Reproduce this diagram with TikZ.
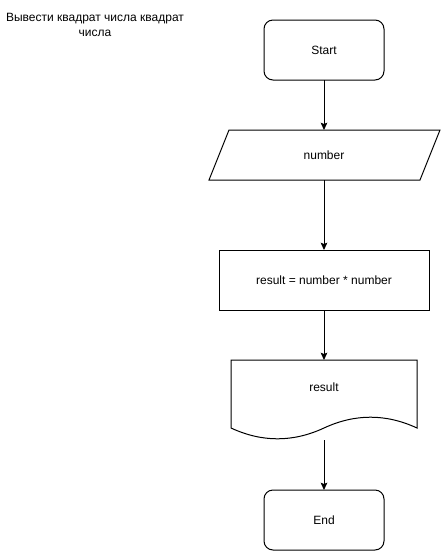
\documentclass[tikz,border=0pt]{standalone}
\usepackage{fontspec}
\setmainfont{Liberation Sans}
\usetikzlibrary{arrows.meta}
\tikzset{
  px/.style={x=0.75pt,y=-0.75pt},
  ln/.style={line width=0.75pt,draw=black},
  term/.style={ln,rectangle,rounded corners=6.75pt,minimum width=90pt,minimum height=45pt,outer sep=0pt,inner sep=0pt,font=\fontsize{9}{11}\selectfont},
  procbox/.style={ln,rectangle,minimum width=157.5pt,minimum height=45pt,outer sep=0pt,inner sep=0pt,font=\fontsize{9}{11}\selectfont},
  ghost/.style={rectangle,outer sep=0pt,inner sep=0pt,font=\fontsize{9}{11}\selectfont},
  txt/.style={inner sep=0pt,font=\fontsize{9}{11.25}\selectfont},
  conn/.style={line width=0.75pt,-{Stealth[length=5.5pt,width=5pt,inset=1pt]}}
}
\begin{document}
\begin{tikzpicture}[px]
\useasboundingbox (0,0) rectangle (441,551);
% title
\node[txt,align=center] (title) at (95,24.5) {Вывести квадрат числа квадрат\\числа};
% start
\node[term] (start) at (324,50) {Start};
% input parallelogram
\draw[ln] (229,130) -- (440,130) -- (420,180) -- (209,180) -- cycle;
\node[ghost,minimum width=150pt,minimum height=37.5pt] (num) at (324,155) {number};
% process
\node[procbox] (proc) at (324,280) {result = number * number};
% document
\draw[ln] (231,360) -- (417,360) -- (417,428)
  .. controls (386,413.6) and (355,413.6) .. (324,428)
  .. controls (293,442.4) and (262,442.4) .. (231,428) -- cycle;
\node[ghost,minimum width=139.5pt,minimum height=60pt] (doc) at (324,400) {};
\node[txt] (doctext) at (324,387) {result};
% end
\node[term] (end) at (324,520) {End};
% connectors
\draw[conn] (start.south) -- (num.north);
\draw[conn] (num.south) -- (proc.north);
\draw[conn] (proc.south) -- (doc.north);
\draw[conn] (doc.south) -- (end.north);
\end{tikzpicture}
\end{document}
